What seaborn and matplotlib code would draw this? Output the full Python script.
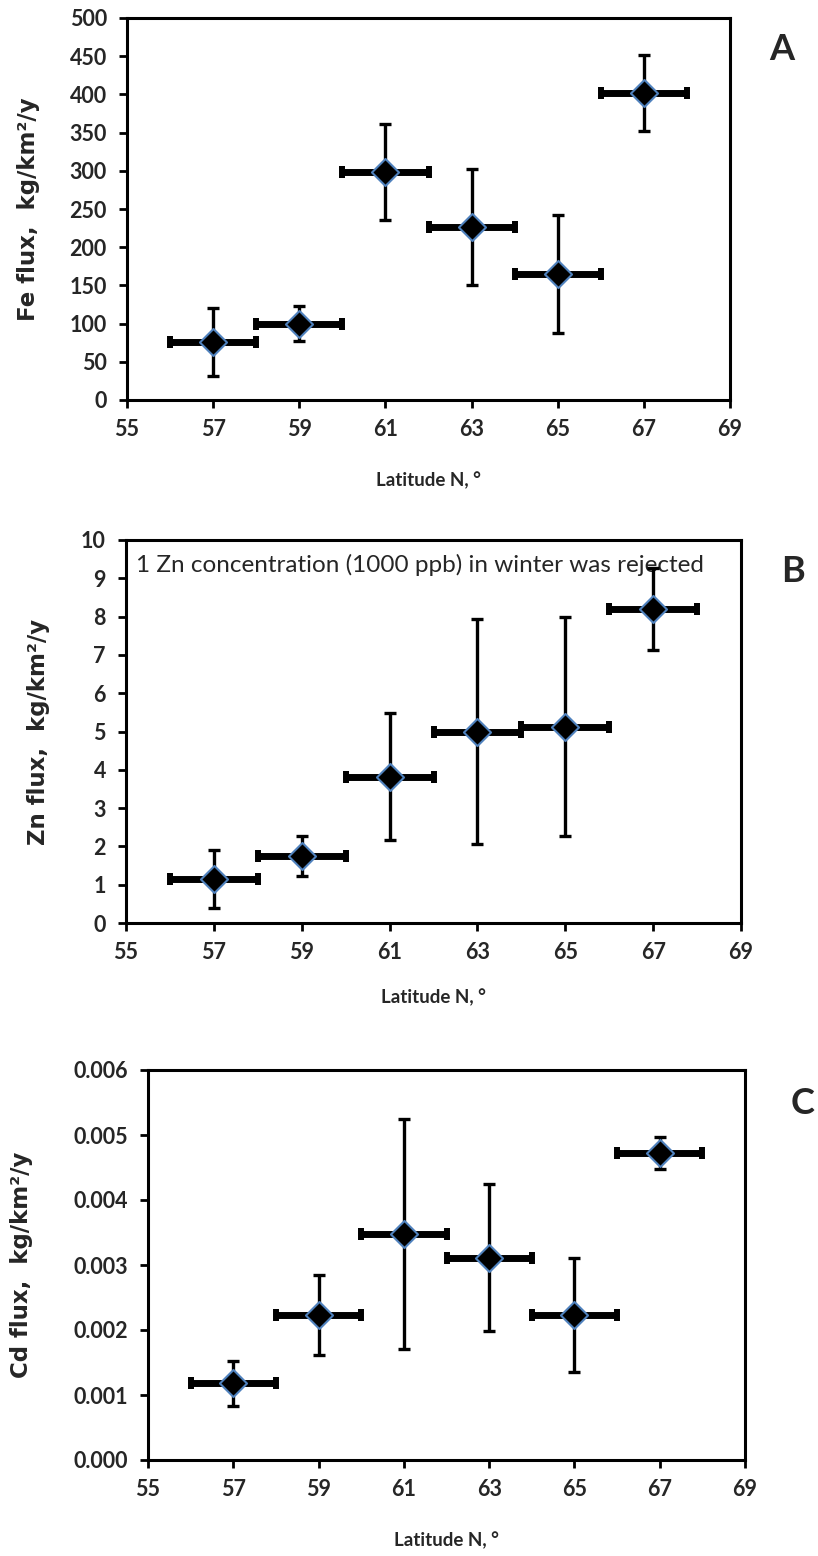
import numpy as np
import pandas as pd
import matplotlib
matplotlib.use('Agg')
import matplotlib.pyplot as plt
import seaborn as sns

sns.set_style('ticks')
plt.rcParams['font.family'] = ['Lato', 'DejaVu Sans']
plt.rcParams['axes.linewidth'] = 2.2

# ── data ─────────────────────────────────────────────────────────────
latitude = [57, 59, 61, 63, 65, 67]
lat_err = [1, 1, 1, 1, 1, 1]

fe_flux = [76, 100, 298, 227, 165, 402]
fe_err = [45, 23, 63, 76, 77, 50]

zn_flux = [1.15, 1.75, 3.82, 5.00, 5.13, 8.20]
zn_err = [0.76, 0.52, 1.65, 2.95, 2.85, 1.08]

cd_flux = [0.00118, 0.00223, 0.00348, 0.00311, 0.00223, 0.00472]
cd_err = [0.00035, 0.00061, 0.00177, 0.00113, 0.00088, 0.00025]

x_ticks = [55, 57, 59, 61, 63, 65, 67, 69]
fe_ticks = list(range(0, 501, 50))
zn_ticks = list(range(0, 11))
cd_ticks = [0.000, 0.001, 0.002, 0.003, 0.004, 0.005, 0.006]

W, H = 818, 1556
fig = plt.figure(figsize=(W / 100, H / 100), dpi=100)
fig.patch.set_facecolor('white')

panels = [
    # box = (left, top, right, bottom) in px
    dict(box=(127, 18, 730, 400), y=fe_flux, e=fe_err, ticks=fe_ticks, fmt='{:.0f}',
         ylabel='Fe flux,  kg/km²/y', letter='A', lxy=(782, 50), ylx=29, xly=480),
    dict(box=(126, 540, 741, 923), y=zn_flux, e=zn_err, ticks=zn_ticks, fmt='{:.0f}',
         ylabel='Zn flux,  kg/km²/y', letter='B', lxy=(793, 572), ylx=39, xly=997),
    dict(box=(148, 1070, 745, 1460), y=cd_flux, e=cd_err, ticks=cd_ticks, fmt='{:.3f}',
         ylabel='Cd flux,  kg/km²/y', letter='C', lxy=(803, 1103), ylx=21, xly=1540),
]

for p in panels:
    l, t, r, b = p['box']
    ax = fig.add_axes([l / W, 1 - b / H, (r - l) / W, (b - t) / H])
    df = pd.DataFrame({'lat': latitude, 'flux': p['y']})

    # horizontal (latitude band) bars: thick with square caps
    ax.errorbar(latitude, p['y'], xerr=lat_err, fmt='none', ecolor='black',
                elinewidth=5, capsize=4, capthick=4.3, zorder=2)
    # vertical error bars
    ax.errorbar(latitude, p['y'], yerr=p['e'], fmt='none', ecolor='black',
                elinewidth=2.4, capsize=4.3, capthick=2.4, zorder=3)
    sns.scatterplot(data=df, x='lat', y='flux', marker='D', s=190, color='black',
                    edgecolor='#4f81bd', linewidth=1.5, ax=ax, zorder=4)

    ax.set_xlim(55, 69)
    ax.set_ylim(p['ticks'][0], p['ticks'][-1])
    ax.set_xticks(x_ticks)
    ax.set_yticks(p['ticks'])
    ax.set_yticklabels([p['fmt'].format(v) for v in p['ticks']])
    ax.tick_params(direction='out', length=5.5, width=2, labelsize=15.5, color='black')
    ax.tick_params(axis='x', pad=8)
    ax.tick_params(axis='y', pad=9)
    for lab in ax.get_xticklabels() + ax.get_yticklabels():
        lab.set_fontweight('bold')
    for s in ax.spines.values():
        s.set_visible(True)
        s.set_linewidth(2.2)
        s.set_color('black')

    hpx = b - t
    wpx = r - l
    ax.set_xlabel('Latitude N, °', fontsize=13.5, fontweight='bold', va='center')
    ax.xaxis.set_label_coords(0.5, -(p['xly'] - b) / hpx)
    ax.set_ylabel(p['ylabel'], fontsize=16.5, fontweight='bold', family='DejaVu Sans', va='center')
    ax.yaxis.set_label_coords((p['ylx'] - l) / wpx, 0.5)

    fig.text(p['lxy'][0] / W, 1 - p['lxy'][1] / H, p['letter'], fontsize=26,
             fontweight='bold', ha='center', va='center')

    if p['letter'] == 'B':
        ax.text((136 - l) / wpx, (b - 565) / hpx,
                '1 Zn concentration (1000 ppb) in winter was rejected',
                transform=ax.transAxes, fontsize=17.5, ha='left', va='center', zorder=1)

fig.savefig('out.png', dpi=100, facecolor='white')
